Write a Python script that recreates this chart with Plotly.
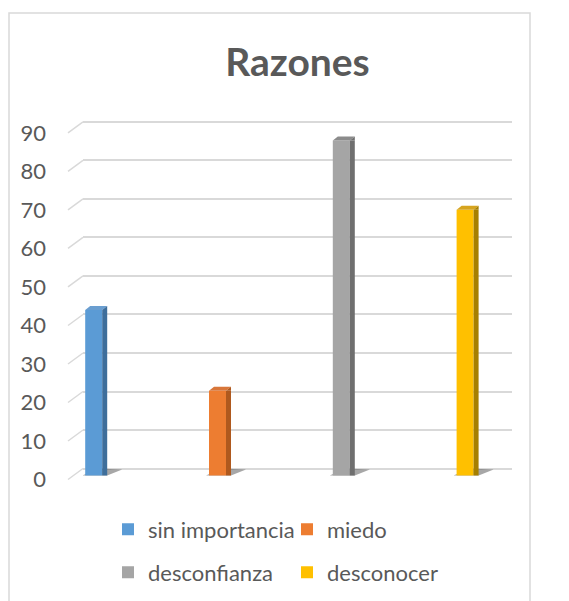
import plotly.graph_objects as go

# ---------------- data ----------------
categories = ["sin importancia", "miedo", "desconfianza", "desconocer"]
values = [43, 22, 87, 69]
front_colors = ["#5B9BD5", "#ED7D31", "#A5A5A5", "#FFC000"]
side_colors = ["#3E6E9B", "#AF591E", "#6F6F6F", "#A67F00"]
cap_colors = ["#6A9ED0", "#D8763A", "#8B8B8B", "#D6A41F"]
y_ticks = [0, 10, 20, 30, 40, 50, 60, 70, 80, 90]
y_tick_labels = [str(v) for v in y_ticks]
title_text = "Razones"

# ---------------- layout geometry (pixels) ----------------
W, H = 569, 601
PL, PR = 83, 512                           # back plot area, x
Y0, Y90 = 469, 122                         # back pixel rows of 0 and 90
PPU = (Y0 - Y90) / 90.0                    # px per unit
PAD_TOP = 0.5                              # range padding so edge gridlines draw
PAD_BOT = 3.5                              # room for bar bases / shadows below floor
PT = Y90 - PAD_TOP * PPU
PB = Y0 + PAD_BOT * PPU
STEP = 123.8                               # px between bars
FRONT_W = 17                               # px front face width
DEPTH_X, DEPTH_Y = 5, 4                    # 3D depth offset in px
FLOOR_SHIFT = 7                            # bar base below back floor (px)

bar_w = FRONT_W / STEP
side_w = DEPTH_X / STEP
x0_range = -(93.7 - PL) / STEP
x1_range = x0_range + (PR - PL) / STEP
shift_units = FLOOR_SHIFT / PPU


def px2x(px):
    return (px - PL) / (PR - PL)


def py2y(py):
    return (PB - py) / (PB - PT)


idx = list(range(len(categories)))

fig = go.Figure()

for i, (cat, v, col) in enumerate(zip(categories, values, front_colors)):
    fig.add_trace(go.Bar(
        x=[i], y=[v], width=bar_w, name=cat,
        marker=dict(color=col, line=dict(width=0)),
        yaxis="y2", legend="legend" if i < 2 else "legend2",
        hoverinfo="skip",
    ))

# side faces
fig.add_trace(go.Bar(
    x=idx, y=values, width=side_w, offset=bar_w / 2,
    marker=dict(color=side_colors, line=dict(width=0)),
    yaxis="y2", showlegend=False, hoverinfo="skip",
))

shapes = []
for i, v in enumerate(values):
    left = i - bar_w / 2
    # top cap
    shapes.append(dict(
        type="path", xref="x", yref="y2", xsizemode="pixel", ysizemode="pixel",
        xanchor=left, yanchor=v,
        path=f"M0,0 L{FRONT_W},0 L{FRONT_W + DEPTH_X},{DEPTH_Y} L{DEPTH_X},{DEPTH_Y} Z",
        fillcolor=cap_colors[i], line=dict(width=0), layer="above",
    ))
    # side top triangle
    shapes.append(dict(
        type="path", xref="x", yref="y2", xsizemode="pixel", ysizemode="pixel",
        xanchor=left, yanchor=v,
        path=f"M{FRONT_W},0 L{FRONT_W + DEPTH_X},{DEPTH_Y} L{FRONT_W + DEPTH_X},0 Z",
        fillcolor=side_colors[i], line=dict(width=0), layer="above",
    ))
    # floor shadow (anchored to the back floor, drawn on the base subplot)
    fs = FLOOR_SHIFT
    shapes.append(dict(
        type="path", xref="x", yref="y", xsizemode="pixel", ysizemode="pixel",
        xanchor=left, yanchor=0,
        path=f"M-3,{-fs} L22,{-fs} L37,{-fs + 6} L12,{-fs + 7} Z",
        fillcolor="rgba(60,60,60,0.45)", line=dict(width=0), layer="between",
    ))

# perspective connectors at the left of each gridline
for t in y_ticks:
    shapes.append(dict(
        type="line", xref="paper", yref="y", xsizemode="pixel", ysizemode="pixel",
        xanchor=0, yanchor=t, x0=0, x1=-15, y0=0, y1=-11,
        line=dict(color="#D9D9D9", width=1.5), layer="below",
    ))

# chart border
shapes.append(dict(
    type="rect", xref="paper", yref="paper",
    x0=px2x(9), x1=px2x(530), y0=py2y(640), y1=py2y(13),
    line=dict(color="#D9D9D9", width=1.5), fillcolor="rgba(0,0,0,0)", layer="below",
))

legend_common = dict(
    orientation="h", xanchor="left", yanchor="middle",
    x=px2x(108), entrywidth=134, entrywidthmode="pixels",
    font=dict(family="Lato", size=22, color="#595959"),
    bgcolor="rgba(0,0,0,0)", traceorder="normal",
)

fig.update_layout(
    width=W, height=H,
    margin=dict(l=PL, r=W - PR, t=PT, b=H - PB, autoexpand=False),
    paper_bgcolor="white", plot_bgcolor="white",
    barmode="overlay",
    showlegend=True,
    title=dict(
        text=title_text, x=0.5, xanchor="center", xref="paper",
        y=1 - 62 / H, yref="container", yanchor="middle",
        font=dict(family="Lato", size=39, color="#595959", weight="bold"),
    ),
    xaxis=dict(range=[x0_range, x1_range], showgrid=False, zeroline=False,
               showticklabels=False, ticks="", showline=False, fixedrange=True),
    yaxis=dict(range=[-PAD_BOT, 90 + PAD_TOP], tickvals=y_ticks, ticktext=y_tick_labels,
               showgrid=True, gridcolor="#D9D9D9", gridwidth=1.5,
               zeroline=False, showline=False, ticks="",
               ticklabelshift=11, ticklabelstandoff=36,
               tickfont=dict(family="Lato", size=22, color="#595959")),
    yaxis2=dict(range=[-PAD_BOT + shift_units, 90 + PAD_TOP + shift_units], overlaying="y",
                visible=False, showgrid=False, zeroline=False),
    legend=dict(legend_common, y=py2y(530)),
    legend2=dict(legend_common, y=py2y(573)),
    shapes=shapes,
)

fig.write_html("out.html", post_script="document.body.style.margin='0';",
               config={"displayModeBar": False})
